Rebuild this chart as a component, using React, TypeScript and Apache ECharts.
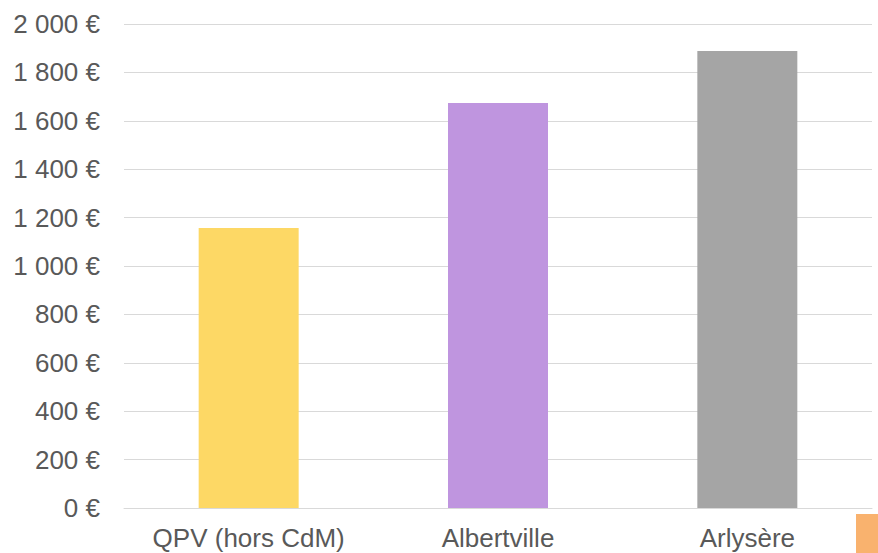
import React, { useEffect, useRef } from "react";
import * as echarts from "echarts";

const categories = ["QPV (hors CdM)", "Albertville", "Arlysère"];
const values = [1157, 1674, 1888];
const barColors = ["#FDD865", "#BF95DF", "#A5A5A5"];

export default function App() {
  const ref = useRef<HTMLDivElement>(null);
  useEffect(() => {
    const chart = echarts.init(ref.current!, null, { renderer: "svg" });
    chart.setOption({
      animation: false,
      grid: { left: 124, right: 6, top: 24, bottom: 45 },
      xAxis: {
        type: "category",
        data: categories,
        axisLine: { lineStyle: { color: "#D9D9D9", width: 1 } },
        axisTick: { show: false },
        axisLabel: {
          color: "#595959",
          fontSize: 26,
          lineHeight: 26,
          fontFamily: "Liberation Sans, Arial, sans-serif",
          margin: 17,
          interval: 0,
          hideOverlap: false,
        },
      },
      yAxis: {
        type: "value",
        min: 0,
        max: 2000,
        interval: 200,
        axisLine: { show: false },
        axisTick: { show: false },
        splitLine: { lineStyle: { color: "#D9D9D9", width: 1 } },
        axisLabel: {
          color: "#595959",
          fontSize: 26,
          fontFamily: "Liberation Sans, Arial, sans-serif",
          margin: 24,
          formatter: (v: number) => v.toLocaleString("fr-FR").replace(/\u202f|\u00a0/g, " ") + " €",
        },
      },
      series: [
        {
          type: "bar",
          barWidth: 100,
          data: values.map((v, i) => ({ value: v, itemStyle: { color: barColors[i] } })),
        },
      ],
      graphic: [
        { type: "rect", left: 856, top: 514, shape: { width: 22, height: 39 }, style: { fill: "#F9B26E" } },
      ],
    });
    return () => chart.dispose();
  }, []);
  return <div ref={ref} style={{ width: 878, height: 553, position: "absolute", left: 0, top: 0 }} />;
}
